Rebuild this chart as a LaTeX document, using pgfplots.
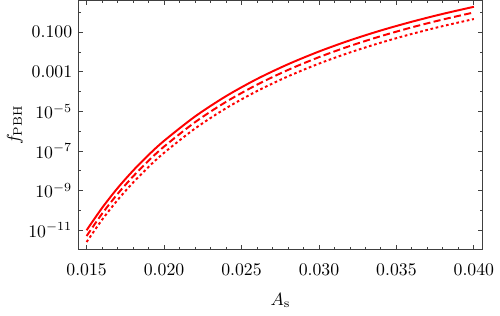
\documentclass[border=0pt]{standalone}
\usepackage{pgfplots}
\pgfplotsset{compat=1.18}

\begin{document}
\begin{tikzpicture}
\begin{axis}[
    name=ax,
    scale only axis,
    width=227.9pt,
    height=140.6pt,
    ymode=log,
    xmin=0.01447, xmax=0.04056,
    ymin=1e-12, ymax=4.0,
    scaled x ticks=false,
    axis line style={black!75, line width=0.5pt},
    every tick/.style={black!75, line width=0.5pt},
    major tick length=2.8pt,
    minor tick length=1.6pt,
    xtick={0.015,0.020,0.025,0.030,0.035,0.040},
    xticklabels={$0.015$,$0.020$,$0.025$,$0.030$,$0.035$,$0.040$},
    minor xtick={0.016,0.017,0.018,0.019,0.021,0.022,0.023,0.024,0.026,0.027,0.028,0.029,0.031,0.032,0.033,0.034,0.036,0.037,0.038,0.039},
    ytick={1e-11,1e-9,1e-7,1e-5,1e-3,1e-1},
    yticklabels={$10^{-11}$,$10^{-9}$,$10^{-7}$,$10^{-5}$,$0.001$,$0.100$},
    minor ytick={1e-10,1e-8,1e-6,1e-4,1e-2,1},
    xticklabel style={yshift=-4.7pt},
    xlabel={$A_{\mathrm{s}}$},
    ylabel={$f_{\mathrm{PBH}}$},
    every axis x label/.style={at={(axis description cs:0.5,0)}, anchor=base, yshift=-31.2pt},
    every axis y label/.style={at={(axis description cs:0,0.5)}, xshift=-35.8pt, anchor=center, rotate=90},
    clip=true,
]
% solid
\addplot[red, line width=1.1pt, line join=round, smooth] coordinates {
    (0.015,9.84e-12) (0.016,1.32e-10) (0.017,1.32e-9) (0.018,1.01e-8)
    (0.019,6.27e-8) (0.020,3.24e-7) (0.022,5.52e-6) (0.024,5.86e-5)
    (0.026,4.34e-4) (0.028,2.40e-3) (0.030,1.06e-2) (0.032,3.90e-2)
    (0.034,0.123) (0.036,0.340) (0.038,0.847) (0.040,1.93)
};
% dashed
\addplot[red, line width=1.1pt, smooth, dash pattern=on 4pt off 1.9pt] coordinates {
    (0.015,5.01e-12) (0.016,6.76e-11) (0.017,6.71e-10) (0.018,5.16e-9)
    (0.019,3.21e-8) (0.020,1.66e-7) (0.022,2.84e-6) (0.024,3.02e-5)
    (0.026,2.23e-4) (0.028,1.24e-3) (0.030,5.50e-3) (0.032,2.02e-2)
    (0.034,6.35e-2) (0.036,0.177) (0.038,0.440) (0.040,1.00)
};
% dotted
\addplot[red, line width=1.1pt, smooth, dash pattern=on 1.5pt off 1.5pt] coordinates {
    (0.015,2.49e-12) (0.016,3.34e-11) (0.017,3.30e-10) (0.018,2.52e-9)
    (0.019,1.56e-8) (0.020,8.04e-8) (0.022,1.36e-6) (0.024,1.44e-5)
    (0.026,1.06e-4) (0.028,5.87e-4) (0.030,2.59e-3) (0.032,9.48e-3)
    (0.034,2.98e-2) (0.036,8.24e-2) (0.038,0.205) (0.040,0.465)
};
\end{axis}
\path ([shift={(-44.2pt,-37.2pt)}]ax.south west) rectangle ([shift={(7.8pt,0.3pt)}]ax.north east);
\end{tikzpicture}
\end{document}
